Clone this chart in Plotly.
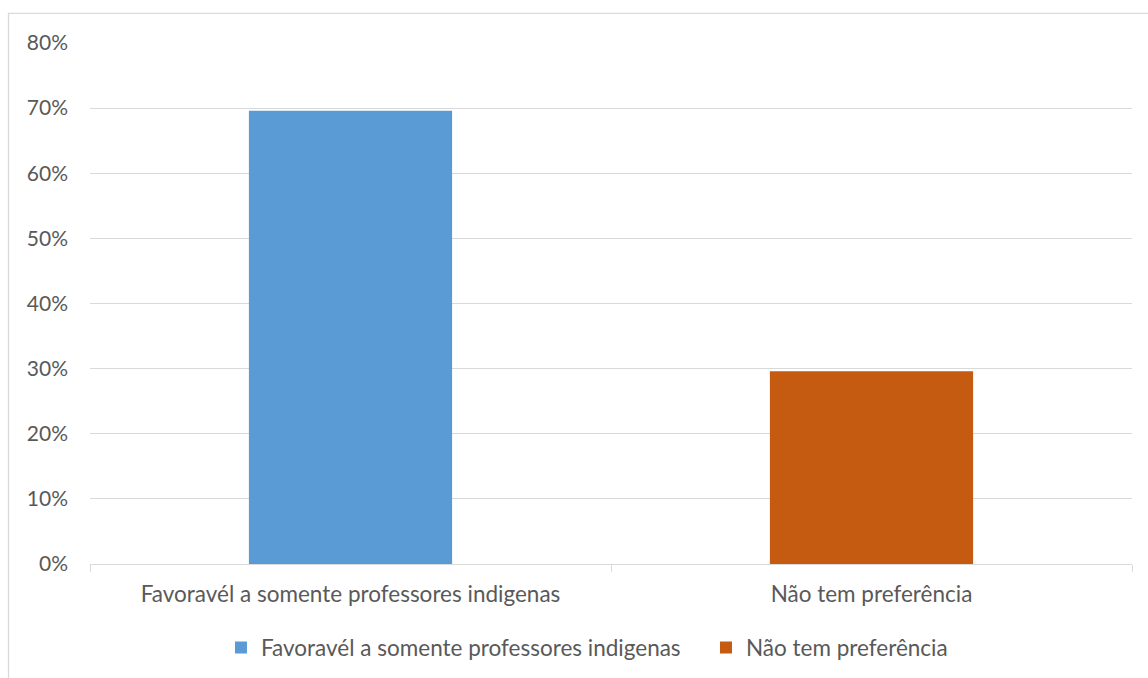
import plotly.graph_objects as go

categories = ["Favoravél a somente professores indigenas", "Não tem preferência"]
values = [0.696, 0.296]
colors = ["#5B9BD5", "#C55A11"]
y_ticks = [0, 0.1, 0.2, 0.3, 0.4, 0.5, 0.6, 0.7, 0.8]

FONT = "Lato"
TXT = "#595959"
GRID = "#D9D9D9"

fig = go.Figure()
for cat, val, col in zip(categories, values, colors):
    fig.add_trace(go.Bar(x=[cat], y=[val], name=cat, marker=dict(color=col, line=dict(width=0)),
                         showlegend=False))
    fig.add_trace(go.Scatter(x=[None], y=[None], mode="markers", name=cat,
                             marker=dict(symbol="square", size=8, color=col)))

fig.update_layout(
    width=1148, height=678,
    margin=dict(l=90, r=16, t=43, b=114, autoexpand=False),
    paper_bgcolor="white", plot_bgcolor="white",
    barmode="overlay", bargap=0.61,
    font=dict(family=FONT, size=22.5, color=TXT),
    legend=dict(orientation="h", x=0.1257, xanchor="left", y=-0.161, yanchor="middle",
                font=dict(family=FONT, size=22.5, color=TXT), itemwidth=30,
                entrywidth=440, tracegroupgap=0, itemsizing="constant"),
    shapes=[dict(type="rect", xref="paper", yref="paper",
                 x0=-0.0782, x1=1.03, y0=-0.3, y1=1.0567,
                 line=dict(color="#D9D9D9", width=1.3), fillcolor="rgba(0,0,0,0)", layer="below")],
)
fig.update_xaxes(showline=True, linecolor=GRID, linewidth=1.3, ticks="outside", tickson="boundaries",
                 ticklen=7, tickcolor=GRID, tickwidth=1.3, showgrid=False, ticklabelstandoff=10,
                 tickfont=dict(family=FONT, size=22.5, color=TXT))
fig.update_yaxes(range=[0, 0.8], tickvals=y_ticks, tickformat=".0%", showgrid=True, gridcolor=GRID,
                 gridwidth=1.3, zeroline=False, showline=False, ticks="", ticklabelstandoff=21,
                 tickfont=dict(family=FONT, size=21, color=TXT))

fig.write_html("out.html")
